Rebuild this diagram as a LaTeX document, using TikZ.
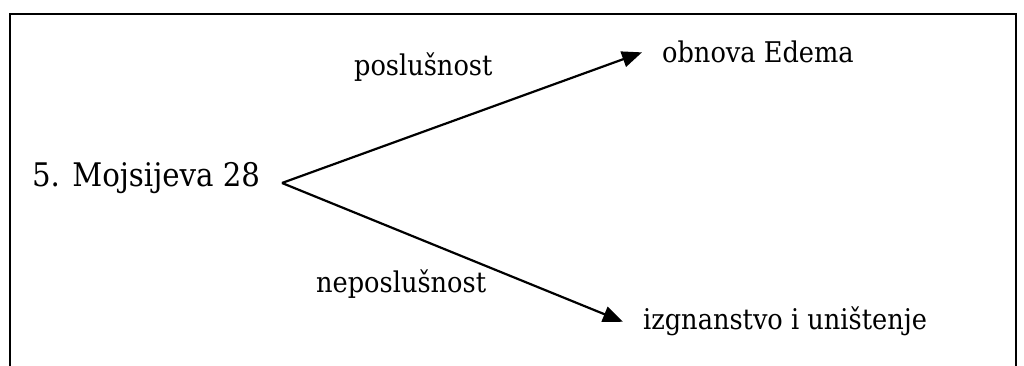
\documentclass[tikz,border=0pt]{standalone}
\usepackage{fontspec}
\setmainfont{DejaVu Serif Condensed}
\usetikzlibrary{positioning,arrows.meta}
\tikzstyle{term}=[inner xsep=0pt,inner ysep=0pt,anchor=base west,font=\fontsize{28.5}{33}\selectfont]
\tikzstyle{goal}=[term,inner xsep=19pt]
\tikzstyle{source}=[term,font=\fontsize{32.5}{38}\selectfont]
\newcommand{\newTerm}[4]{\node[#3](#1) at #4 {#2};}
\newcommand{\newBranch}[2]{\draw[->] (#1) -- (#2);}

\begin{document}
\begin{tikzpicture}[x=1pt,y=1pt,
      >={Triangle[length=20pt,width=16pt]},
      line width=2.2pt
      ]
      \useasboundingbox (0,0) rectangle (1024,366);
      \draw[line width=2.6pt] (10,-5) |- (1016,352) -- (1016,-5);
      \newTerm{src}{5. Mojsijeva 28}{source}{(31,179)}
      \coordinate (fork) at (282,183);
      \newTerm{edem}{obnova Edema}{goal}{(642,303)}
      \newTerm{exile}{izgnanstvo i uništenje}{goal}{(623,36)}
      \newTerm{obey}{poslušnost}{term}{(353,290)}
      \newTerm{disobey}{neposlušnost}{term}{(315,73)}
      \newBranch{fork}{edem.west}
      \newBranch{fork}{exile.west}
    \end{tikzpicture}
\end{document}
